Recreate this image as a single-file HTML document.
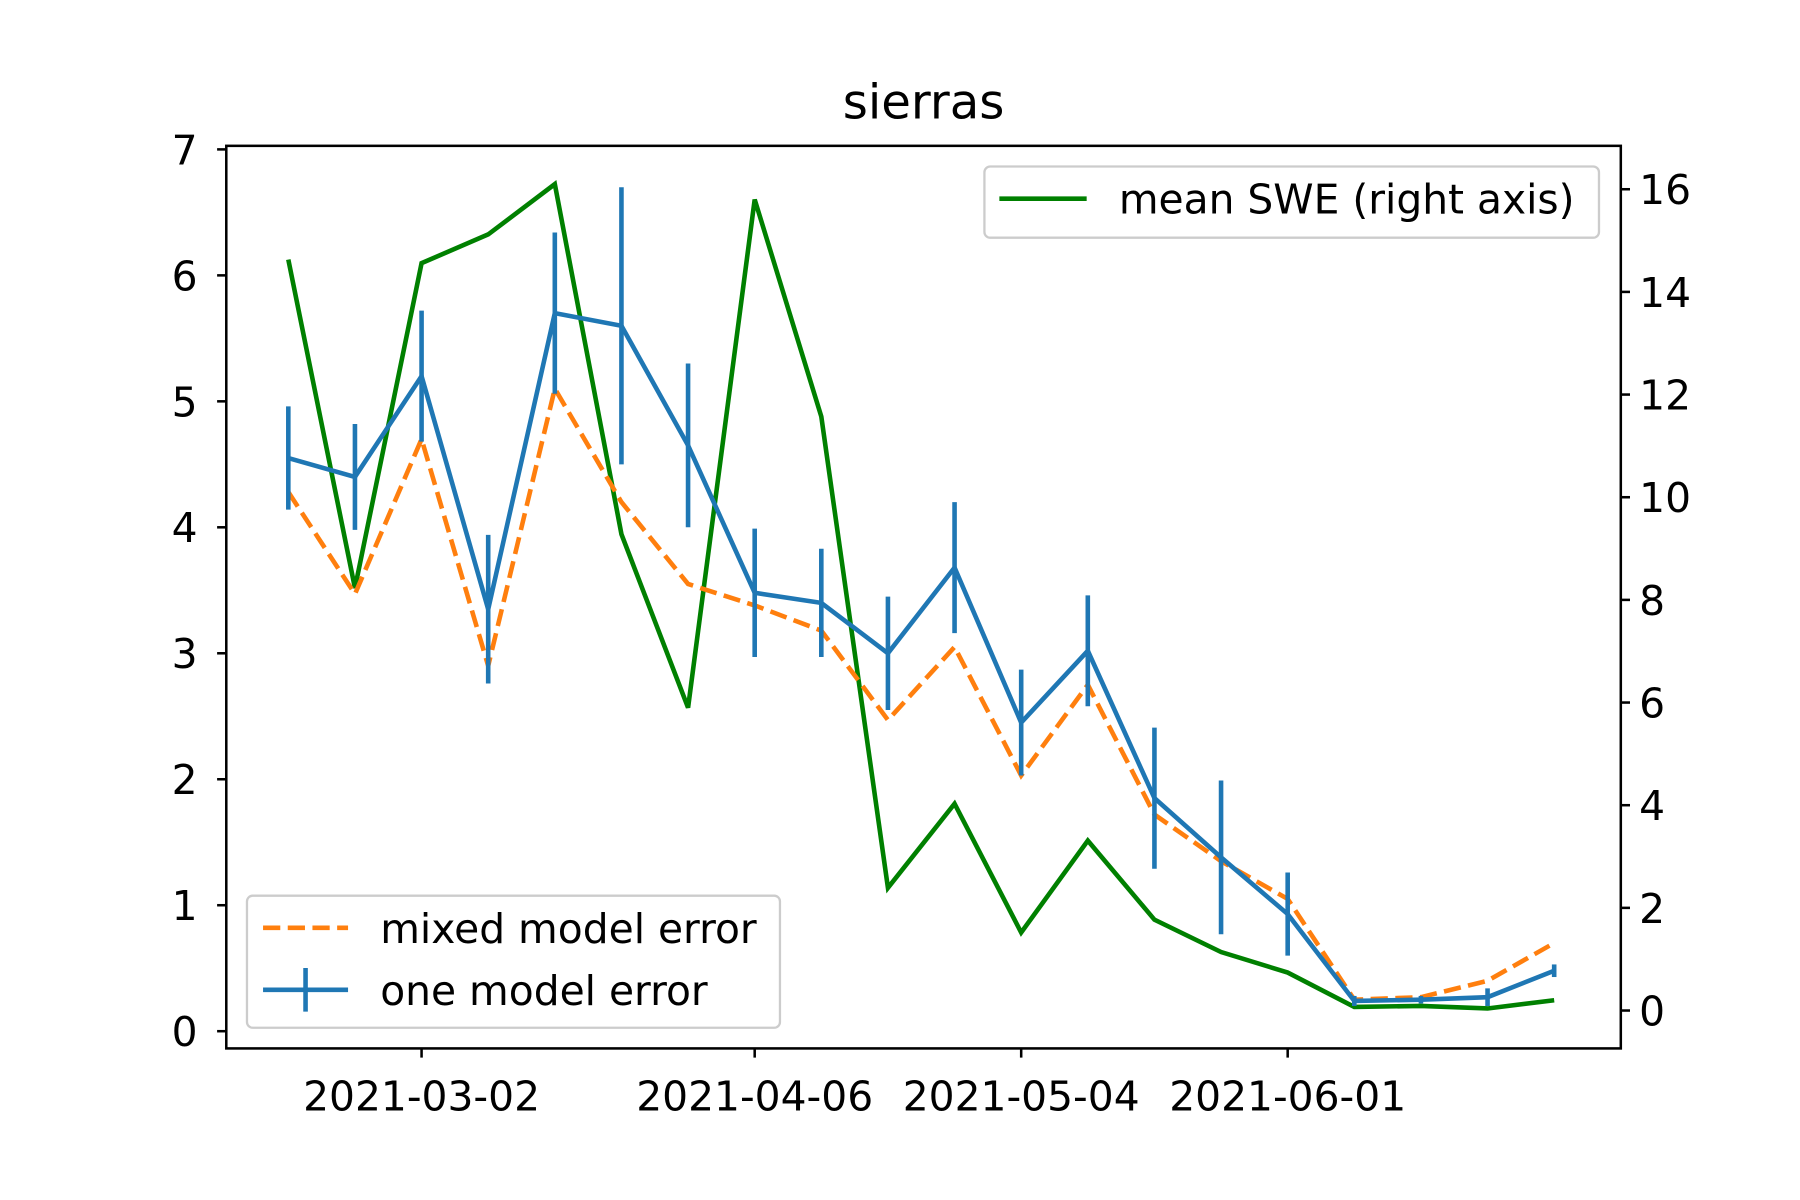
<!DOCTYPE html>
<html><head><meta charset="utf-8"><style>
html,body{margin:0;padding:0;background:#fff;}
svg{display:block;font-family:"DejaVu Sans","Liberation Sans",sans-serif;}
</style></head><body>
<svg id="chart" width="1800" height="1200" viewBox="0 0 1567 1045" preserveAspectRatio="none">
<rect width="1567" height="1045" fill="#fff"/>
<text x="804" y="103" font-size="42" text-anchor="middle">sierras</text>
<g id="plot"></g>
<rect x="197" y="127" width="1214" height="786" fill="none" stroke="#000" stroke-width="2.2"/>
<g>
<rect x="857" y="145" width="535" height="62" rx="5" fill="#fff" fill-opacity="0.8" stroke="#ccc" stroke-width="2"/>
<line x1="870" y1="173" x2="946" y2="173" stroke="#008000" stroke-width="4"/>
<text x="974" y="186" font-size="35.5">mean SWE (right axis)</text>
</g>
<g>
<rect x="215" y="780" width="464" height="115" rx="5" fill="#fff" fill-opacity="0.8" stroke="#ccc" stroke-width="2"/>
<line x1="229" y1="808" x2="303" y2="808" stroke="#ff7f0e" stroke-width="4" stroke-dasharray="15,6.5"/>
<text x="331" y="821" font-size="35.5">mixed model error</text>
<line x1="229" y1="862" x2="303" y2="862" stroke="#1f77b4" stroke-width="4"/>
<line x1="266" y1="843" x2="266" y2="881" stroke="#1f77b4" stroke-width="4"/>
<text x="331" y="875" font-size="35.5">one model error</text>
</g>
</svg>
<script>
const dates=["2021-02-16","2021-02-23","2021-03-02","2021-03-09","2021-03-16","2021-03-23","2021-03-30","2021-04-06","2021-04-13","2021-04-20","2021-04-27","2021-05-04","2021-05-11","2021-05-18","2021-05-25","2021-06-01","2021-06-08","2021-06-15","2021-06-22","2021-06-29"];
const oneModel=[4.55,4.4,5.2,3.35,5.7,5.6,4.65,3.48,3.4,3.0,3.68,2.45,3.02,1.85,1.38,0.93,0.24,0.25,0.27,0.48];
const oneErr=[0.41,0.42,0.52,0.59,0.64,1.1,0.65,0.51,0.43,0.45,0.52,0.42,0.44,0.56,0.61,0.33,0.04,0.03,0.07,0.05];
const mixedModel=[4.28,3.47,4.7,2.9,5.1,4.2,3.55,3.38,3.18,2.47,3.05,2.03,2.75,1.72,1.35,1.05,0.25,0.27,0.4,0.7];
const swe=[14.63,8.23,14.56,15.12,16.1,9.28,5.9,15.8,11.57,2.39,4.03,1.52,3.31,1.77,1.14,0.74,0.07,0.09,0.04,0.2];
const xTicks=["2021-03-02","2021-04-06","2021-05-04","2021-06-01"];
const yTicks=[0,1,2,3,4,5,6,7];
const y2Ticks=[0,2,4,6,8,10,12,14,16];

const NS="http://www.w3.org/2000/svg";
const g=document.getElementById('plot');
const t0=Date.parse(dates[0]);
const day=86400000;
function x(d){return 251+(Date.parse(d)-t0)/day*(290/35);}
function y(v){return 898-v*109.7;}
function y2(v){return 880-v*44.7;}
function mk(tag,attrs){const e=document.createElementNS(NS,tag);for(const k in attrs)e.setAttribute(k,attrs[k]);g.appendChild(e);return e;}

yTicks.forEach(v=>{
  const l=mk('line',{x1:189,x2:197,y1:y(v),y2:y(v),stroke:'#000','stroke-width':2.2});
  
  
  const t=mk('text',{x:172,y:y(v)+13,'font-size':35.5,'text-anchor':'end'});t.textContent=v;
  
  
});
y2Ticks.forEach(v=>{
  const l=mk('line',{x1:1411,x2:1419,y1:y2(v),y2:y2(v),stroke:'#000','stroke-width':2.2});
  
  
  const t=mk('text',{x:1427,y:y2(v)+13,'font-size':35.5});t.textContent=v;
  
  
});
xTicks.forEach(d=>{
  const l=mk('line',{x1:x(d),x2:x(d),y1:913,y2:921,stroke:'#000','stroke-width':2.2});
  
  
  const t=mk('text',{x:x(d),y:967,'font-size':35.5,'text-anchor':'middle'});t.textContent=d;
  
  
});

const sw=mk('polyline',{points:dates.map((d,i)=>x(d)+','+y2(swe[i])).join(' '),fill:'none',stroke:'#008000','stroke-width':4});


const mm=mk('polyline',{points:dates.map((d,i)=>x(d)+','+y(mixedModel[i])).join(' '),fill:'none',stroke:'#ff7f0e','stroke-width':4,'stroke-dasharray':'15,6.5'});


const om=mk('polyline',{points:dates.map((d,i)=>x(d)+','+y(oneModel[i])).join(' '),fill:'none',stroke:'#1f77b4','stroke-width':4});


dates.forEach((d,i)=>{
  const e=mk('line',{x1:x(d),x2:x(d),y1:y(oneModel[i]-oneErr[i]),y2:y(oneModel[i]+oneErr[i]),stroke:'#1f77b4','stroke-width':4});
  
  
});
</script>
</body></html>
